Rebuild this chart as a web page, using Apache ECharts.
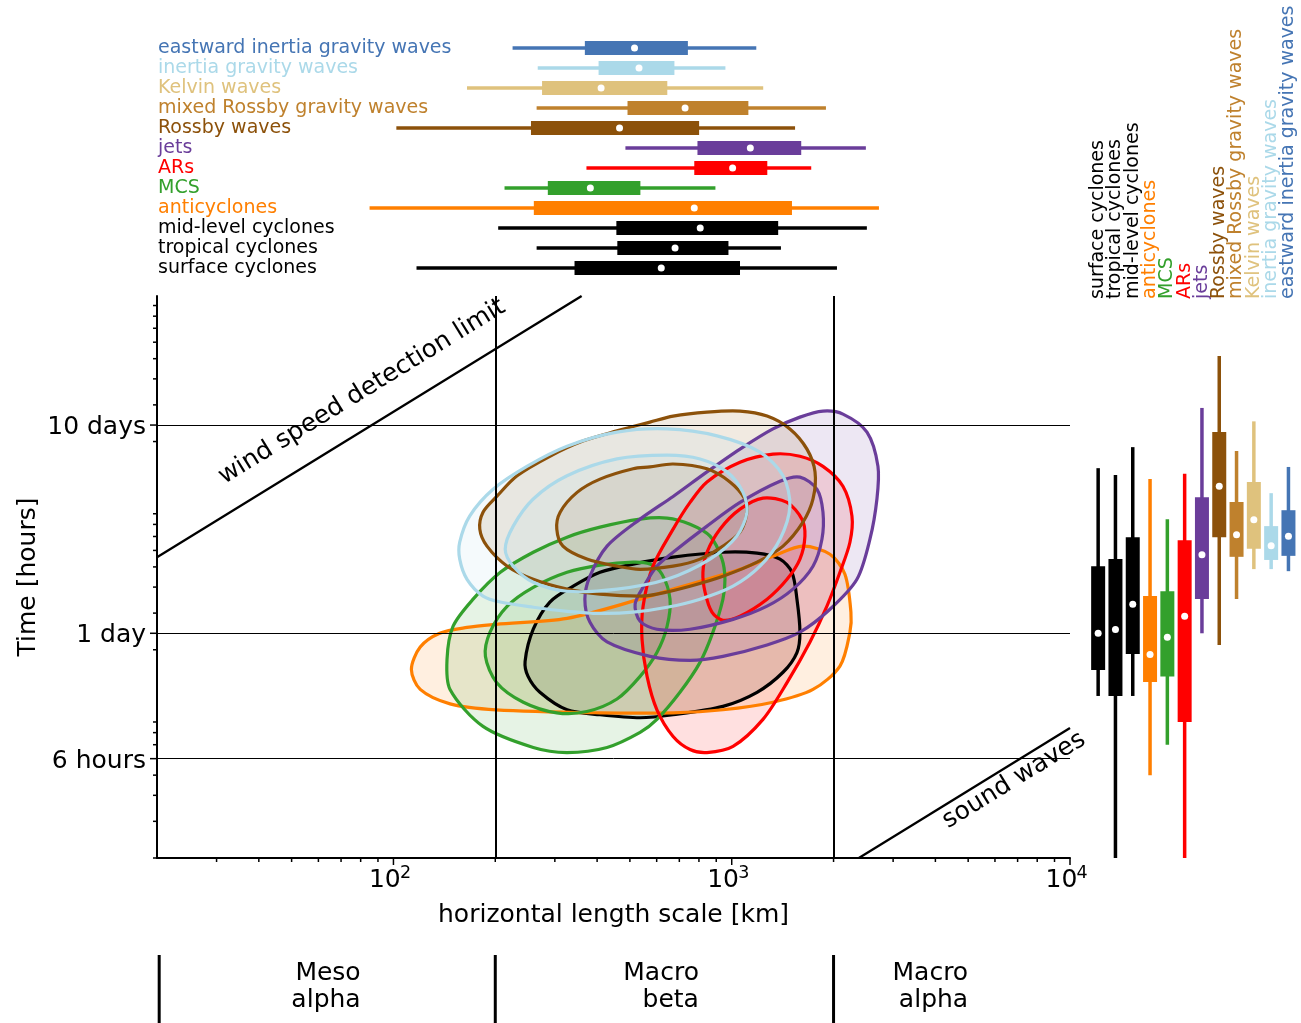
<!DOCTYPE html>
<html><head><meta charset="utf-8">
<script src="https://cdn.jsdelivr.net/npm/echarts@6/dist/echarts.min.js"></script>
<style>html,body{margin:0;padding:0;background:#fff}#c{width:1301px;height:1023px}</style>
</head><body><div id="c"></div>
<script>
const FONT = 'DejaVu Sans';
// ---- categories (bottom->top in top panel, left->right in right panel)
const categories = ['surface cyclones','tropical cyclones','mid-level cyclones','anticyclones','MCS','ARs','jets','Rossby waves','mixed Rossby gravity waves','Kelvin waves','inertia gravity waves','eastward inertia gravity waves'];
const categoryColors = ['#000000','#000000','#000000','#ff7f00','#33a02c','#ff0000','#6a3d9a','#8c510a','#bf812d','#dfc27d','#abd9e9','#4575b4'];
// ---- horizontal length scale box stats [km]
const lengthLow    = [117,265,204,85,213,372,485,102,265,165,267,225];
const lengthQ1     = [343,459,456,260,286,775,792,255,492,275,404,368];
const lengthMedian = [619,680,807,775,382,1006,1135,466,728,411,532,516];
const lengthQ3     = [1058,978,1372,1507,537,1274,1605,801,1120,645,677,742];
const lengthHigh   = [2047,1398,2509,2724,895,1718,2492,1539,1899,1239,958,1182];
// ---- time scale box stats [hours]
const timeLow    = [12.0,2,12,5.0,7.0,2,24,21.1,35.1,48.8,48.8,47.7];
const timeQ1     = [16.0,12,19.1,14.0,14.9,9.0,35.1,69.4,55.9,61.1,54,56.5];
const timeMedian = [24,25,33.1,19.0,23,29,57.2,122,71.3,84.3,63.2,70.2];
const timeQ3     = [50.3,54.5,69.4,36.2,38.2,67.1,108,222,102.5,128,78.5,93.6];
const timeHigh   = [149,138,188,132,84.6,140,290,515,180,250,113,151];
// ---- contours [km, hours]
const contourCyclones = [[245,17.6],[259,25.1],[290,33.9],[340,40.4],[408,47.1],[511,51.6],[671,55.7],[942,58.8],[1188,58.2],[1389,54.5],[1507,47.1],[1559,35.0],[1591,24.3],[1559,19.4],[1418,15.6],[1188,12.5],[942,10.7],[671,9.75],[536,9.43],[408,9.75],[326,10.3],[271,12.5],[250,14.9]];
const contourAnticyclones = [[113,16.1],[120,20.6],[137,24.0],[165,25.6],[201,26.5],[326,28.3],[536,35.0],[671,39.1],[845,43.6],[1058,48.7],[1324,56.3],[1624,62.9],[1952,57.5],[2161,46.1],[2251,30.3],[2236,24.3],[2089,16.7],[1739,12.9],[1324,11.2],[942,10.3],[671,9.96],[408,9.96],[201,10.3],[147,11.0],[120,12.9]];
const contourMCSOuter = [[144,18.0],[150,25.9],[172,35.0],[207,47.1],[259,58.8],[326,69.5],[408,77.6],[536,84.8],[644,85.8],[753,80.2],[863,70.3],[936,54.5],[955,43.6],[942,35.0],[880,24.3],[806,17.4],[703,12.5],[601,9.26],[536,8.02],[428,6.79],[326,6.42],[259,6.79],[184,8.57],[147,12.9]];
const contourMCSInner = [[187,18.6],[193,24.3],[217,32.4],[259,39.9],[326,47.1],[408,51.0],[511,52.7],[573,51.6],[622,46.1],[657,35.0],[644,25.9],[601,19.4],[536,14.9],[458,11.6],[373,10.1],[304,9.96],[242,11.2],[202,13.9]];
const contourARsOuter = [[753,102],[845,128],[1058,159],[1324,174],[1591,170],[1861,152],[2132,122],[2267,87.7],[2236,65.7],[2089,47.1],[1912,32.4],[1704,21.8],[1457,13.9],[1237,9.26],[1009,6.87],[845,6.42],[753,6.64],[671,7.67],[601,10.3],[562,14.9],[543,22.5],[547,32.4],[585,50.4],[671,75.9]];
const contourARsInner = [[822,47.1],[845,58.8],[923,75.9],[1058,94.7],[1237,107],[1457,102],[1613,84.8],[1646,70.3],[1591,54.5],[1457,43.6],[1272,35.0],[1058,29.0],[942,27.7],[874,30.3],[834,37.8]];
const contourJetsOuter = [[368,35.0],[381,45.1],[428,62.9],[536,84.8],[671,109],[845,143],[1058,184],[1324,230],[1591,262],[1861,280],[2132,271],[2511,222],[2706,152],[2687,106],[2562,67.9],[2345,43.6],[1952,31.3],[1591,24.3],[1272,21.1],[942,18.6],[753,17.8],[573,18.6],[428,21.8],[381,27.1]];
const contourJetsInner = [[518,33.1],[554,41.3],[601,50.4],[671,58.8],[845,78.5],[1058,102],[1389,129],[1591,135],[1787,118],[1861,91.6],[1848,67.9],[1739,50.4],[1517,39.1],[1272,32.4],[1009,28.0],[753,25.1],[601,25.1],[536,27.4]];
const contourRossbyOuter = [[180,75.9],[184,91.6],[202,109],[232,137],[290,170],[363,201],[458,225],[573,248],[671,265],[845,277],[1058,280],[1272,265],[1486,230],[1669,184],[1763,143],[1739,106],[1624,82.0],[1418,62.9],[1188,52.7],[942,45.1],[753,40.4],[601,37.0],[536,36.2],[408,37.0],[326,39.1],[259,43.6],[217,50.4],[189,62.9]];
const contourRossbyInner = [[304,75.9],[311,91.6],[349,114],[408,132],[511,148],[573,151],[671,156],[845,148],[988,128],[1094,106],[1109,91.6],[1058,73.4],[942,62.9],[806,54.5],[671,50.4],[536,48.7],[458,50.4],[373,54.5],[317,62.9]];
const contourIGWOuter = [[157,54.5],[165,43.6],[184,36.2],[207,33.9],[259,32.0],[326,30.6],[408,29.9],[511,30.3],[644,32.0],[806,35.0],[1009,40.4],[1212,50.4],[1389,67.9],[1486,97.9],[1418,137],[1212,178],[905,213],[644,230],[458,222],[326,190],[248,152],[197,118],[168,87.7],[157,65.7]];
const contourIGWInner = [[214,60.8],[226,78.5],[259,106],[326,137],[458,165],[644,172],[806,165],[968,143],[1080,114],[1109,91.6],[1036,70.3],[863,54.5],[644,43.6],[458,39.1],[326,38.2],[259,42.2],[226,50.4]];
// ---- reference lines
const windLimitLine = [[20,55.6],[360,1000]];
const soundLine = [[2376,2],[10000,8.42]];
const timeGridValues = [240,24,6];
const lengthGridValues = [200,2000];
// ---- ticks & labels
const xMajorTicks = [100,1000,10000];
const xMajorExp = ['2','3','4'];
const xMinorTicks = [30,40,50,60,70,80,90,200,300,400,500,600,700,800,900,2000,3000,4000,5000,6000,7000,8000,9000];
const yMajorTicks = [6,24,240];
const yMajorLabels = ['6 hours','1 day','10 days'];
const yMinorTicks = [2,3,4,5,7,8,9,20,30,40,50,60,70,80,90,200,300,400,500,600,700,800,900];
// ---- bottom band
const bandLines = [20.3,200,2000];
const bandLabelX = [80,80,800,800,5000,5000];
const bandLabelY = [0.735,0.324,0.735,0.324,0.735,0.324];
const bandLabelText = ['Meso','alpha','Macro','beta','Macro','alpha'];

function rgba(hex,a){const n=parseInt(hex.slice(1),16);return 'rgba('+((n>>16)&255)+','+((n>>8)&255)+','+(n&255)+','+a+')';}

const contourList = [
  [contourCyclones,'#000000'],[contourAnticyclones,'#ff7f00'],
  [contourMCSOuter,'#33a02c'],[contourMCSInner,'#33a02c'],
  [contourARsOuter,'#ff0000'],[contourARsInner,'#ff0000'],
  [contourJetsOuter,'#6a3d9a'],[contourJetsInner,'#6a3d9a'],
  [contourRossbyOuter,'#8c510a'],[contourRossbyInner,'#8c510a'],
  [contourIGWOuter,'#abd9e9'],[contourIGWInner,'#abd9e9']
];

const series = [];
// fills first, then all outlines on top
[false, true].forEach(function(isStroke){
  contourList.forEach(function(c){
    const pts = c[0], col = c[1];
    series.push({type:'custom', xAxisIndex:0, yAxisIndex:0, data: pts, z: isStroke ? 3 : 2, silent:true,
      renderItem: function(params, api){
        if (params.dataIndex !== 0) return null;
        const p = pts.map(function(d){return api.coord(d);});
        return {type:'polygon', shape:{points:p, smooth:0.3},
          style: isStroke ? {fill:'none', stroke: col, lineWidth: 3.2} : {fill: rgba(col,0.12), stroke:'none'}};
      }});
  });
});
// reference lines + grid lines
series.push({type:'line', xAxisIndex:0, yAxisIndex:0, data: windLimitLine, symbol:'none', z:5, silent:true,
  lineStyle:{color:'#000', width:2.3},
  markLine:{symbol:'none', silent:true, label:{show:false}, z:5,
    data: timeGridValues.map(function(v){return {yAxis:v, lineStyle:{color:'#000',width:1,type:'solid'}};})
      .concat(lengthGridValues.map(function(v){return {xAxis:v, lineStyle:{color:'#000',width:2,type:'solid'}};}))}
});
series.push({type:'line', xAxisIndex:0, yAxisIndex:0, data: soundLine, symbol:'none', z:5, silent:true, lineStyle:{color:'#000', width:2.3}});
// ticks
function xTickSeries(vals, len){
  return {type:'custom', xAxisIndex:0, yAxisIndex:0, data: vals.map(function(v){return [v,2];}), z:6, silent:true,
    renderItem:function(params, api){const c=api.coord([api.value(0),2]);
      return {type:'line', shape:{x1:c[0],y1:c[1],x2:c[0],y2:c[1]+len}, style:{stroke:'#000',lineWidth:1.5}};}};
}
function yTickSeries(vals, len){
  return {type:'custom', xAxisIndex:0, yAxisIndex:0, data: vals.map(function(v){return [20,v];}), z:6, silent:true,
    renderItem:function(params, api){const c=api.coord([20,api.value(1)]);
      return {type:'line', shape:{x1:c[0]-len,y1:c[1],x2:c[0],y2:c[1]}, style:{stroke:'#000',lineWidth:1.5}};}};
}
series.push(xTickSeries(xMajorTicks,7), xTickSeries(xMinorTicks,4), yTickSeries(yMajorTicks,7), yTickSeries(yMinorTicks,4));
// tick labels
series.push({type:'custom', xAxisIndex:0, yAxisIndex:0, data: xMajorTicks.map(function(v){return [v,2];}), z:6, silent:true,
  renderItem:function(params, api){const c=api.coord([api.value(0),2]); const e=xMajorExp[params.dataIndex];
    return {type:'group', children:[
      {type:'text', x:c[0]+7.3, y:c[1]+22, style:{text:'10', align:'right', verticalAlign:'middle', fill:'#000', fontSize:25, fontFamily:FONT}},
      {type:'text', x:c[0]+6.5, y:c[1]+15.5, style:{text:e, align:'left', verticalAlign:'middle', fill:'#000', fontSize:17.5, fontFamily:FONT}}
    ]};}});
series.push({type:'custom', xAxisIndex:0, yAxisIndex:0, data: yMajorTicks.map(function(v){return [20,v];}), z:6, silent:true,
  renderItem:function(params, api){const c=api.coord([20,api.value(1)]);
    return {type:'text', x:c[0]-11, y:c[1]+2.5, style:{text:yMajorLabels[params.dataIndex], align:'right', verticalAlign:'middle', fill:'#000', fontSize:25, fontFamily:FONT}};}});
// annotations
function annot(pt, text, rotDeg){
  return {type:'custom', xAxisIndex:0, yAxisIndex:0, data:[pt], z:6, silent:true,
    renderItem:function(params, api){const c=api.coord([api.value(0),api.value(1)]);
      return {type:'text', x:c[0], y:c[1], rotation: rotDeg*Math.PI/180, style:{text:text, align:'center', verticalAlign:'middle', fill:'#000', fontSize:25, fontFamily:FONT}};}};
}
series.push(annot([80.7,346],'wind speed detection limit',31.6));
series.push(annot([6830,4.72],'sound waves',31.6));
// top box plot
series.push({type:'custom', xAxisIndex:1, yAxisIndex:1, silent:true, z:3,
  data: categories.map(function(c,i){return [i, lengthLow[i], lengthQ1[i], lengthMedian[i], lengthQ3[i], lengthHigh[i]];}),
  encode:{y:0, x:[1,2,3,4,5]},
  renderItem:function(params, api){
    const i=api.value(0), col=categoryColors[params.dataIndex];
    const lo=api.coord([api.value(1),i]), q1=api.coord([api.value(2),i]), md=api.coord([api.value(3),i]), q3=api.coord([api.value(4),i]), hi=api.coord([api.value(5),i]);
    return {type:'group', children:[
      {type:'line', shape:{x1:lo[0],y1:lo[1],x2:hi[0],y2:hi[1]}, style:{stroke:col,lineWidth:3.5}},
      {type:'rect', shape:{x:q1[0], y:q1[1]-7, width:q3[0]-q1[0], height:14}, style:{fill:col}},
      {type:'circle', shape:{cx:md[0], cy:md[1], r:3.5}, style:{fill:'#fff'}}]};
  }});
// right box plot
series.push({type:'custom', xAxisIndex:2, yAxisIndex:2, silent:true, z:3,
  data: categories.map(function(c,i){return [i, timeLow[i], timeQ1[i], timeMedian[i], timeQ3[i], timeHigh[i]];}),
  encode:{x:0, y:[1,2,3,4,5]},
  renderItem:function(params, api){
    const i=api.value(0), col=categoryColors[params.dataIndex];
    const lo=api.coord([i,api.value(1)]), q1=api.coord([i,api.value(2)]), md=api.coord([i,api.value(3)]), q3=api.coord([i,api.value(4)]), hi=api.coord([i,api.value(5)]);
    return {type:'group', children:[
      {type:'line', shape:{x1:lo[0],y1:lo[1],x2:hi[0],y2:hi[1]}, style:{stroke:col,lineWidth:3.5}},
      {type:'rect', shape:{x:q1[0]-7, y:q3[1], width:14, height:q1[1]-q3[1]}, style:{fill:col}},
      {type:'circle', shape:{cx:md[0], cy:md[1], r:3.5}, style:{fill:'#fff'}}]};
  }});
// right panel rotated category labels
series.push({type:'custom', xAxisIndex:2, yAxisIndex:2, silent:true, z:3,
  data: categories.map(function(c,i){return [i, 1000];}),
  renderItem:function(params, api){
    const p=api.coord([api.value(0),1000]);
    return {type:'text', x:p[0], y:p[1]+3, rotation:Math.PI/2,
      style:{text:categories[params.dataIndex], align:'left', verticalAlign:'middle', fill:categoryColors[params.dataIndex], fontSize:19, fontFamily:FONT}};
  }});
// bottom band
series.push({type:'custom', xAxisIndex:3, yAxisIndex:3, silent:true, data: bandLines.map(function(v){return [v,0];}),
  renderItem:function(params, api){const a=api.coord([api.value(0),0]), b=api.coord([api.value(0),1]);
    return {type:'line', shape:{x1:a[0],y1:a[1],x2:b[0],y2:b[1]}, style:{stroke:'#000',lineWidth:3}};}});
series.push({type:'custom', xAxisIndex:3, yAxisIndex:3, silent:true, data: bandLabelX.map(function(v,i){return [v,bandLabelY[i]];}),
  renderItem:function(params, api){const a=api.coord([api.value(0),api.value(1)]);
    return {type:'text', x:a[0], y:a[1], style:{text:bandLabelText[params.dataIndex], align:'right', verticalAlign:'middle', fill:'#000', fontSize:25, fontFamily:FONT}};}});

const hidden = {axisLine:{show:false}, axisTick:{show:false}, axisLabel:{show:false}, splitLine:{show:false}};
const option = {
  animation:false,
  backgroundColor:'#fff',
  textStyle:{fontFamily:FONT},
  grid:[
    {left:157, top:296, width:913, height:562},
    {left:157, top:38, width:913, height:240},
    {left:1089.5, top:296, width:207.6, height:562},
    {left:157, top:955, width:913, height:68}
  ],
  xAxis:[
    {gridIndex:0, type:'log', logBase:10, min:20, max:10000,
     axisLine:{show:true, onZero:false, lineStyle:{color:'#000', width:2}}, axisTick:{show:false}, axisLabel:{show:false}, splitLine:{show:false}, minorTick:{show:false},
     name:'horizontal length scale [km]', nameLocation:'middle', nameGap:45, nameTextStyle:{fontSize:25, fontFamily:FONT, color:'#000'}},
    Object.assign({gridIndex:1, type:'log', logBase:10, min:20, max:10000}, hidden),
    Object.assign({gridIndex:2, type:'category', data:categories}, hidden),
    Object.assign({gridIndex:3, type:'log', logBase:10, min:20, max:10000}, hidden)
  ],
  yAxis:[
    {gridIndex:0, type:'log', logBase:10, min:2, max:1000,
     axisLine:{show:true, onZero:false, lineStyle:{color:'#000', width:2}}, axisTick:{show:false}, axisLabel:{show:false}, splitLine:{show:false}, minorTick:{show:false},
     name:'Time [hours]', nameLocation:'middle', nameGap:116, nameRotate:90, nameTextStyle:{fontSize:25, fontFamily:FONT, color:'#000'}},
    {gridIndex:1, type:'category', data:categories, axisLine:{show:false}, axisTick:{show:false}, splitLine:{show:false},
     axisLabel:{show:true, inside:true, margin:1, interval:0, fontSize:19, fontFamily:FONT, color:function(v,i){return categoryColors[i];}}},
    Object.assign({gridIndex:2, type:'log', logBase:10, min:2, max:1000}, hidden),
    Object.assign({gridIndex:3, type:'value', min:0, max:1}, hidden)
  ],
  series: series
};
const chart = echarts.init(document.getElementById('c'), null, {renderer:'canvas'});
chart.setOption(option);
</script></body></html>
